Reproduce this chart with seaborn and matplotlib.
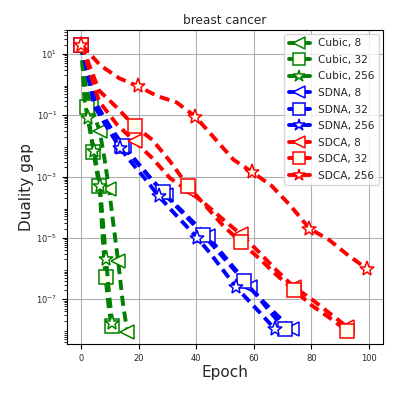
import numpy as np
import pandas as pd
import matplotlib
matplotlib.use("Agg")
import matplotlib.pyplot as plt
import seaborn as sns
from matplotlib.ticker import LogLocator, NullFormatter

# ---- data (epoch, log10 duality gap) ----
cubic8_x = [0, 1.6, 3.2, 4.8, 6.4, 8.0, 9.6, 11.2, 12.8, 14.4, 16.0]
cubic8_lg = [1.3, -0.1, -0.65, -1.1, -1.53, -2.4, -3.4, -4.6, -5.76, -7.1, -8.07]

cubic32_x = [0, 1.05, 2.1, 3.15, 4.2, 5.25, 6.3, 7.35, 8.4, 9.45, 10.5]
cubic32_lg = [1.3, -0.3, -0.72, -1.5, -2.2, -2.8, -3.3, -4.9, -6.29, -7.2, -7.87]

cubic256_x = [0, 1.075, 2.15, 3.2, 4.3, 5.4, 6.45, 7.5, 8.6, 9.7, 10.75]
cubic256_lg = [1.3, -0.5, -1.08, -1.6, -2.18, -2.7, -3.3, -4.5, -5.7, -6.9, -7.76]

sdna8_x = [0, 4.89, 9.78, 14.67, 19.56, 24.44, 29.33, 34.22, 39.11, 44.0,
           48.89, 53.78, 58.67, 63.56, 68.44, 73.33]
sdna8_lg = [1.3, -0.6, -1.35, -2.0, -2.55, -3.1, -3.6, -4.05, -4.5, -4.95,
            -5.5, -6.05, -6.6, -7.1, -7.55, -7.96]

sdna32_x = [0, 4.72, 9.43, 14.15, 18.87, 23.58, 28.3, 33.02, 37.73, 42.45,
            47.17, 51.88, 56.6, 61.32, 66.03, 70.75]
sdna32_lg = [1.3, -0.6, -1.35, -2.0, -2.5, -3.0, -3.5, -3.97, -4.43, -4.9,
             -5.4, -5.9, -6.4, -6.9, -7.45, -7.96]

sdna256_x = [0, 4.48, 8.97, 13.45, 17.93, 22.42, 26.9, 31.38, 35.87, 40.35,
             44.83, 49.32, 53.8, 58.28, 62.77, 67.25]
sdna256_lg = [1.3, -0.7, -1.4, -2.07, -2.6, -3.1, -3.64, -4.1, -4.55, -5.0,
              -5.5, -6.05, -6.6, -7.05, -7.5, -7.96]

sdca8_x = [0, 6.17, 12.33, 18.5, 24.67, 30.83, 37.0, 43.17, 49.33, 55.5,
           61.67, 67.83, 74.0, 80.17, 86.33, 92.5]
sdca8_lg = [1.3, -0.55, -1.3, -1.85, -2.4, -3.05, -3.45, -3.9, -4.4, -4.88,
            -5.45, -6.05, -6.6, -7.0, -7.45, -7.9]

sdca32_x = [0, 6.17, 12.33, 18.5, 24.67, 30.83, 37.0, 43.17, 49.33, 55.5,
            61.67, 67.83, 74.0, 80.17, 86.33, 92.5]
sdca32_lg = [1.3, -0.2, -0.75, -1.36, -1.8, -2.5, -3.3, -3.95, -4.6, -5.14,
             -5.65, -6.2, -6.7, -7.2, -7.6, -8.03]

sdca256_x = [0, 6.62, 13.23, 19.85, 26.47, 33.08, 39.7, 46.32, 52.93, 59.55,
             66.17, 72.78, 79.4, 86.02, 92.63, 99.25]
sdca256_lg = [1.3, 0.62, 0.2, -0.06, -0.38, -0.58, -1.05, -1.75, -2.45, -2.86,
              -3.3, -3.95, -4.7, -5.05, -5.55, -6.0]

labels = ["Cubic, 8", "Cubic, 32", "Cubic, 256",
          "SDNA, 8", "SDNA, 32", "SDNA, 256",
          "SDCA, 8", "SDCA, 32", "SDCA, 256"]
xs = [cubic8_x, cubic32_x, cubic256_x, sdna8_x, sdna32_x, sdna256_x,
      sdca8_x, sdca32_x, sdca256_x]
lgs = [cubic8_lg, cubic32_lg, cubic256_lg, sdna8_lg, sdna32_lg, sdna256_lg,
       sdca8_lg, sdca32_lg, sdca256_lg]

colors = ["green"] * 3 + ["blue"] * 3 + ["red"] * 3
markers = ["<", "s", "*"] * 3
msizes = [10, 9.5, 11] * 3
mevery = [2, 2, 2, 3, 3, 3, 3, 3, 3]

sns.set_style("ticks")
plt.rcParams["font.family"] = ["DejaVu Sans"]

fig = plt.figure(figsize=(3.99, 3.99), dpi=100)
ax = fig.add_axes([0.168, 0.138, 0.792, 0.787])

for x, lg, lab, c, m, ms, me in zip(xs, lgs, labels, colors, markers, msizes, mevery):
    df = pd.DataFrame({"epoch": x, "gap": np.power(10.0, lg)})
    sns.lineplot(data=df, x="epoch", y="gap", ax=ax, color=c, label=lab,
                 sort=False, estimator=None, linewidth=2.8,
                 dashes=False, marker=m, markersize=ms, markevery=me,
                 markerfacecolor="#fffff0", markeredgecolor=c,
                 markeredgewidth=1.1)
    line = ax.lines[-1]
    line.set_linestyle((0, (2.6, 1.5)))

ax.set_yscale("log")
ax.set_xlim(-5, 105)
ax.set_ylim(3.5e-9, 60)
ax.set_xticks([0, 20, 40, 60, 80, 100])
ax.yaxis.set_major_locator(LogLocator(base=10, numticks=6))
ax.yaxis.set_minor_locator(LogLocator(base=10, subs=np.arange(2, 10), numticks=100))
ax.yaxis.set_minor_formatter(NullFormatter())
ax.grid(True, which="major", color="#b0b0b0", linewidth=0.8)
ax.tick_params(axis="both", which="major", labelsize=6, length=3.5, width=0.8, color="black")
ax.tick_params(axis="y", which="minor", length=2, width=0.6, color="black")
for s in ax.spines.values():
    s.set_color("black")
    s.set_linewidth(0.8)

ax.set_title("breast cancer", fontsize=8.7, pad=4)
ax.set_xlabel("Epoch", fontsize=11, labelpad=2)
ax.set_ylabel("Duality gap", fontsize=11, labelpad=2)

leg = ax.legend(loc="upper right", fontsize=7.6, frameon=True, framealpha=0.8,
                edgecolor="#cccccc", fancybox=True, borderaxespad=0.4,
                labelspacing=0.62, handlelength=2.0, markerscale=0.85)
for h in leg.get_lines():
    h.set_linestyle("-")

fig.savefig("out.png", dpi=100)
